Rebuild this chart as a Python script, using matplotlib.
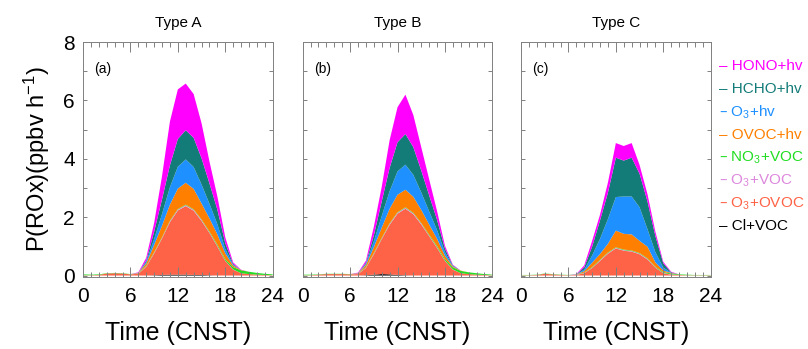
import numpy as np
import matplotlib
matplotlib.use('Agg')
import matplotlib.pyplot as plt
from matplotlib.ticker import MultipleLocator

plt.rcParams['font.family'] = ['Liberation Sans', 'DejaVu Sans']
plt.rcParams['mathtext.default'] = 'regular'

# hour of day (CNST)
hours = np.arange(25)

# species, bottom of the stack first
species = ['Cl+VOC', 'O$_3$+OVOC', 'O$_3$+VOC', 'NO$_3$+VOC',
           'OVOC+hv', 'O$_3$+hv', 'HCHO+hv', 'HONO+hv']
colors = ['#000000', '#FF6347', '#DD88DD', '#22DD22',
          '#FF8000', '#1E90FF', '#137C78', '#FF00FF']
panel_titles = ['Type A', 'Type B', 'Type C']
panel_tags = ['(a)', '(b)', '(c)']

# Type A (ppbv/h)
cl_a = [0, 0, 0, 0, 0, 0, 0, 0, 0, 0.01, 0.02, 0.03, 0.03, 0.03, 0.02, 0.02, 0.01, 0, 0, 0, 0, 0, 0, 0, 0]
o3ovoc_a = [0.01, 0.01, 0.02, 0.07, 0.08, 0.07, 0.04, 0.06, 0.3, 0.75, 1.25, 1.8, 2.2, 2.35, 2.2, 1.85, 1.45, 1.0, 0.5, 0.2, 0.08, 0.05, 0.03, 0.02, 0.01]
o3voc_a = [0, 0, 0, 0, 0, 0, 0, 0.01, 0.01, 0.02, 0.02, 0.03, 0.03, 0.03, 0.03, 0.03, 0.02, 0.02, 0.01, 0.01, 0, 0, 0, 0, 0]
no3voc_a = [0.03, 0.02, 0.02, 0.01, 0.01, 0.01, 0.01, 0.01, 0.02, 0.02, 0.02, 0.02, 0.02, 0.02, 0.02, 0.02, 0.03, 0.04, 0.05, 0.08, 0.1, 0.08, 0.06, 0.04, 0.03]
ovoc_hv_a = [0, 0, 0, 0, 0, 0, 0, 0.01, 0.08, 0.25, 0.4, 0.55, 0.7, 0.75, 0.7, 0.55, 0.45, 0.35, 0.2, 0.05, 0.01, 0, 0, 0, 0]
o3_hv_a = [0, 0, 0, 0, 0, 0, 0, 0, 0.05, 0.2, 0.4, 0.6, 0.75, 0.8, 0.75, 0.65, 0.5, 0.35, 0.15, 0.03, 0, 0, 0, 0, 0]
hcho_hv_a = [0, 0, 0, 0, 0, 0, 0, 0, 0.05, 0.25, 0.5, 0.75, 0.95, 1.0, 1.0, 0.9, 0.7, 0.5, 0.2, 0.03, 0, 0, 0, 0, 0]
hono_hv_a = [0, 0, 0, 0, 0, 0, 0, 0.02, 0.1, 0.3, 0.8, 1.5, 1.7, 1.6, 1.5, 1.2, 0.75, 0.45, 0.2, 0.05, 0.01, 0, 0, 0, 0]

# Type B
cl_b = [0, 0, 0, 0, 0, 0, 0, 0, 0.01, 0.03, 0.05, 0.04, 0.02, 0.01, 0, 0, 0, 0, 0, 0, 0, 0, 0, 0, 0]
o3ovoc_b = [0.01, 0.01, 0.03, 0.05, 0.05, 0.05, 0.04, 0.05, 0.25, 0.7, 1.2, 1.7, 2.1, 2.28, 2.1, 1.75, 1.35, 0.95, 0.5, 0.2, 0.08, 0.05, 0.03, 0.02, 0.01]
o3voc_b = [0, 0, 0, 0, 0, 0, 0, 0.01, 0.01, 0.02, 0.02, 0.03, 0.03, 0.03, 0.03, 0.03, 0.02, 0.02, 0.01, 0.01, 0, 0, 0, 0, 0]
no3voc_b = [0.02, 0.02, 0.01, 0.01, 0.01, 0.01, 0.01, 0.01, 0.02, 0.02, 0.02, 0.02, 0.02, 0.02, 0.02, 0.02, 0.03, 0.04, 0.05, 0.07, 0.08, 0.06, 0.05, 0.03, 0.02]
ovoc_hv_b = [0, 0, 0, 0, 0, 0, 0, 0.01, 0.07, 0.2, 0.35, 0.5, 0.6, 0.6, 0.55, 0.45, 0.35, 0.25, 0.12, 0.03, 0.01, 0, 0, 0, 0]
o3_hv_b = [0, 0, 0, 0, 0, 0, 0, 0, 0.04, 0.2, 0.4, 0.6, 0.8, 0.86, 0.75, 0.6, 0.45, 0.3, 0.12, 0.02, 0, 0, 0, 0, 0]
hcho_hv_b = [0, 0, 0, 0, 0, 0, 0, 0, 0.04, 0.2, 0.5, 0.8, 1.0, 1.05, 0.95, 0.75, 0.55, 0.35, 0.12, 0.02, 0, 0, 0, 0, 0]
hono_hv_b = [0, 0, 0, 0, 0, 0, 0, 0.02, 0.07, 0.3, 0.5, 0.95, 1.2, 1.35, 1.1, 0.8, 0.55, 0.3, 0.1, 0.02, 0, 0, 0, 0, 0]

# Type C
cl_c = [0] * 25
o3ovoc_c = [0.01, 0.01, 0.02, 0.06, 0.04, 0.02, 0.01, 0.02, 0.08, 0.26, 0.5, 0.75, 0.93, 0.85, 0.82, 0.73, 0.55, 0.27, 0.08, 0.03, 0.02, 0.01, 0.01, 0.01, 0.01]
o3voc_c = [0, 0, 0, 0, 0, 0, 0, 0.01, 0.01, 0.01, 0.02, 0.02, 0.02, 0.02, 0.02, 0.02, 0.02, 0.01, 0.01, 0.01, 0, 0, 0, 0, 0]
no3voc_c = [0.01, 0.01, 0.01, 0.01, 0.01, 0.01, 0.01, 0.01, 0.01, 0.02, 0.02, 0.02, 0.02, 0.02, 0.02, 0.02, 0.02, 0.02, 0.03, 0.03, 0.02, 0.02, 0.01, 0.01, 0.01]
ovoc_hv_c = [0, 0, 0, 0, 0, 0, 0, 0, 0.05, 0.15, 0.2, 0.3, 0.57, 0.54, 0.55, 0.42, 0.4, 0.15, 0.05, 0.02, 0, 0, 0, 0, 0]
o3_hv_c = [0, 0, 0, 0, 0, 0, 0, 0, 0.05, 0.25, 0.52, 0.85, 1.15, 1.28, 1.3, 1.15, 0.6, 0.35, 0.1, 0.01, 0, 0, 0, 0, 0]
hcho_hv_c = [0, 0, 0, 0, 0, 0, 0, 0, 0.08, 0.3, 0.63, 0.9, 1.35, 1.23, 1.33, 1.15, 0.95, 0.55, 0.15, 0.01, 0, 0, 0, 0, 0]
hono_hv_c = [0, 0, 0, 0, 0, 0, 0, 0.01, 0.07, 0.2, 0.2, 0.35, 0.5, 0.5, 0.5, 0.3, 0.25, 0.15, 0.05, 0.02, 0, 0, 0, 0, 0]

panels = [
    [cl_a, o3ovoc_a, o3voc_a, no3voc_a, ovoc_hv_a, o3_hv_a, hcho_hv_a, hono_hv_a],
    [cl_b, o3ovoc_b, o3voc_b, no3voc_b, ovoc_hv_b, o3_hv_b, hcho_hv_b, hono_hv_b],
    [cl_c, o3ovoc_c, o3voc_c, no3voc_c, ovoc_hv_c, o3_hv_c, hcho_hv_c, hono_hv_c],
]


def style_axis(ax, first):
    ax.set_xlim(0, 24)
    ax.set_ylim(-0.05, 8)
    ax.xaxis.set_major_locator(MultipleLocator(6))
    ax.xaxis.set_minor_locator(MultipleLocator(1))
    ax.yaxis.set_major_locator(MultipleLocator(2))
    ax.yaxis.set_minor_locator(MultipleLocator(1))
    ax.tick_params(which='both', direction='in', top=True, right=True,
                   color='#808080', width=0.7, labelsize=15)
    ax.tick_params(axis='x', which='major', length=7, pad=7)
    ax.tick_params(axis='x', which='minor', length=3.5)
    ax.tick_params(axis='y', which='both', length=3, pad=6)
    if not first:
        ax.tick_params(axis='y', labelleft=False)
    for sp in ax.spines.values():
        sp.set_color('#808080')
        sp.set_linewidth(0.7)
    ax.set_xlabel('Time (CNST)', fontsize=18, labelpad=11)


def plot_panels():
    fig = plt.figure(figsize=(8.08, 3.49), dpi=100)
    lefts = [0.1027, 0.3746, 0.6448]
    for i, series in enumerate(panels):
        ax = fig.add_axes([lefts[i], 0.2063, 0.2348, 0.673])
        ax.stackplot(hours, *series, colors=colors, linewidth=0)
        style_axis(ax, i == 0)
        ax.set_title(panel_titles[i], fontsize=11, pad=11)
        ax.text(0.06, 0.87, panel_tags[i], transform=ax.transAxes, fontsize=10)
        if i == 0:
            ax.set_ylabel('P(ROx)(ppbv h$^{-1}$)', fontsize=17, labelpad=8)

    # legend as coloured text, top entry first
    y0 = 0.81
    for k, (name, col) in enumerate(zip(species[::-1], colors[::-1])):
        fig.text(0.89, y0 - k * 0.0655, '\u2013 ' + name, color=col,
                 fontsize=11, va='center')

    fig.savefig('out.png', dpi=100)


if __name__ == '__main__':
    plot_panels()
